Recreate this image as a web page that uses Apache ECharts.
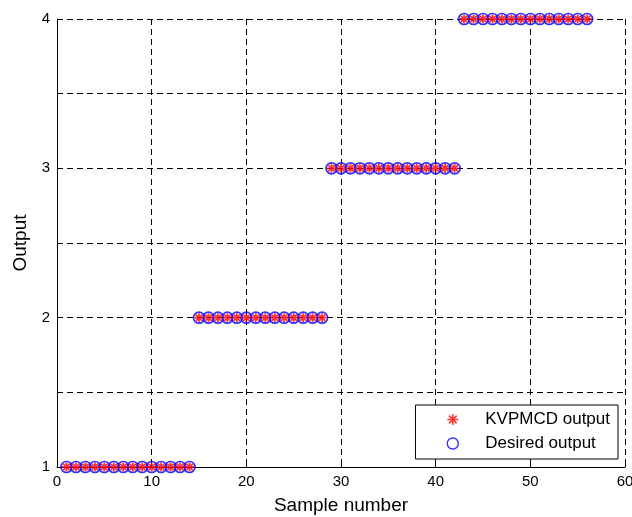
<!DOCTYPE html>
<html><head><meta charset="utf-8">
<script src="https://cdn.jsdelivr.net/npm/echarts@6/dist/echarts.min.js"></script>
<style>html,body{margin:0;padding:0;background:#fff}#c{width:632px;height:517px}</style>
</head><body><div id="c"></div>
<script>
const sampleNumbers = [1,2,3,4,5,6,7,8,9,10,11,12,13,14,15,16,17,18,19,20,21,22,23,24,25,26,27,28,29,30,31,32,33,34,35,36,37,38,39,40,41,42,43,44,45,46,47,48,49,50,51,52,53,54,55,56];
const kvpmcdOutput = [1,1,1,1,1,1,1,1,1,1,1,1,1,1,2,2,2,2,2,2,2,2,2,2,2,2,2,2,3,3,3,3,3,3,3,3,3,3,3,3,3,3,4,4,4,4,4,4,4,4,4,4,4,4,4,4];
const desiredOutput = [1,1,1,1,1,1,1,1,1,1,1,1,1,1,2,2,2,2,2,2,2,2,2,2,2,2,2,2,3,3,3,3,3,3,3,3,3,3,3,3,3,3,4,4,4,4,4,4,4,4,4,4,4,4,4,4];
const seriesNames = ['KVPMCD output','Desired output'];

const star = 'path://M0,-1L0,1M-1,0L1,0M-0.7,-0.7L0.7,0.7M-0.7,0.7L0.7,-0.7';
const font = 'Liberation Sans, Arial, sans-serif';
const chart = echarts.init(document.getElementById('c'));
chart.setOption({
  animation:false,
  grid:{left:57,right:7,top:19,bottom:50,containLabel:false,outerBoundsMode:'none'},
  xAxis:{type:'value',min:0,max:60,interval:10,
    name:'Sample number',nameLocation:'middle',nameGap:29,
    nameTextStyle:{color:'#000',fontSize:19,fontFamily:font},
    axisLine:{show:true,onZero:false,lineStyle:{color:'#000',width:1}},
    axisTick:{show:true,inside:true,length:5,lineStyle:{color:'#000'}},
    axisLabel:{color:'#000',fontSize:15,fontFamily:font,margin:7},
    splitLine:{show:true,lineStyle:{color:'#000',type:[6,4],width:1}}},
  yAxis:{type:'value',min:1,max:4,interval:0.5,
    name:'Output',nameLocation:'middle',nameGap:26,
    nameTextStyle:{color:'#000',fontSize:19,fontFamily:font},
    axisLine:{show:true,onZero:false,lineStyle:{color:'#000',width:1}},
    axisTick:{show:true,inside:true,length:5,lineStyle:{color:'#000'}},
    axisLabel:{color:'#000',fontSize:15,fontFamily:font,margin:7,
      formatter:v=>Number.isInteger(v)?String(v):''},
    splitLine:{show:true,lineStyle:{color:'#000',type:[6,4],width:1}}},
  legend:{right:14,bottom:58,orient:'vertical',backgroundColor:'#fff',
    borderColor:'#000',borderWidth:1,borderRadius:0,padding:[6,8,7,31],itemGap:7,
    itemWidth:11,itemHeight:11,
    textStyle:{color:'#000',fontSize:17,fontFamily:font,padding:[0,0,0,22]},
    data:[{name:seriesNames[0],icon:star,itemStyle:{color:'transparent',borderColor:'#ff0000',borderWidth:1.6}},
          {name:seriesNames[1],icon:'circle',itemStyle:{color:'transparent',borderColor:'#0000ff',borderWidth:1.4}}]},
  series:[
    {name:seriesNames[1],type:'scatter',z:2,symbol:'circle',symbolSize:11,
     itemStyle:{color:'transparent',borderColor:'#0000ff',borderWidth:1.7},
     data:sampleNumbers.map((x,i)=>[x,desiredOutput[i]])},
    {name:seriesNames[0],type:'scatter',z:3,symbol:star,symbolSize:9,
     itemStyle:{color:'transparent',borderColor:'#ff0000',borderWidth:1.8},
     data:sampleNumbers.map((x,i)=>[x,kvpmcdOutput[i]])}
  ]
});
</script></body></html>
